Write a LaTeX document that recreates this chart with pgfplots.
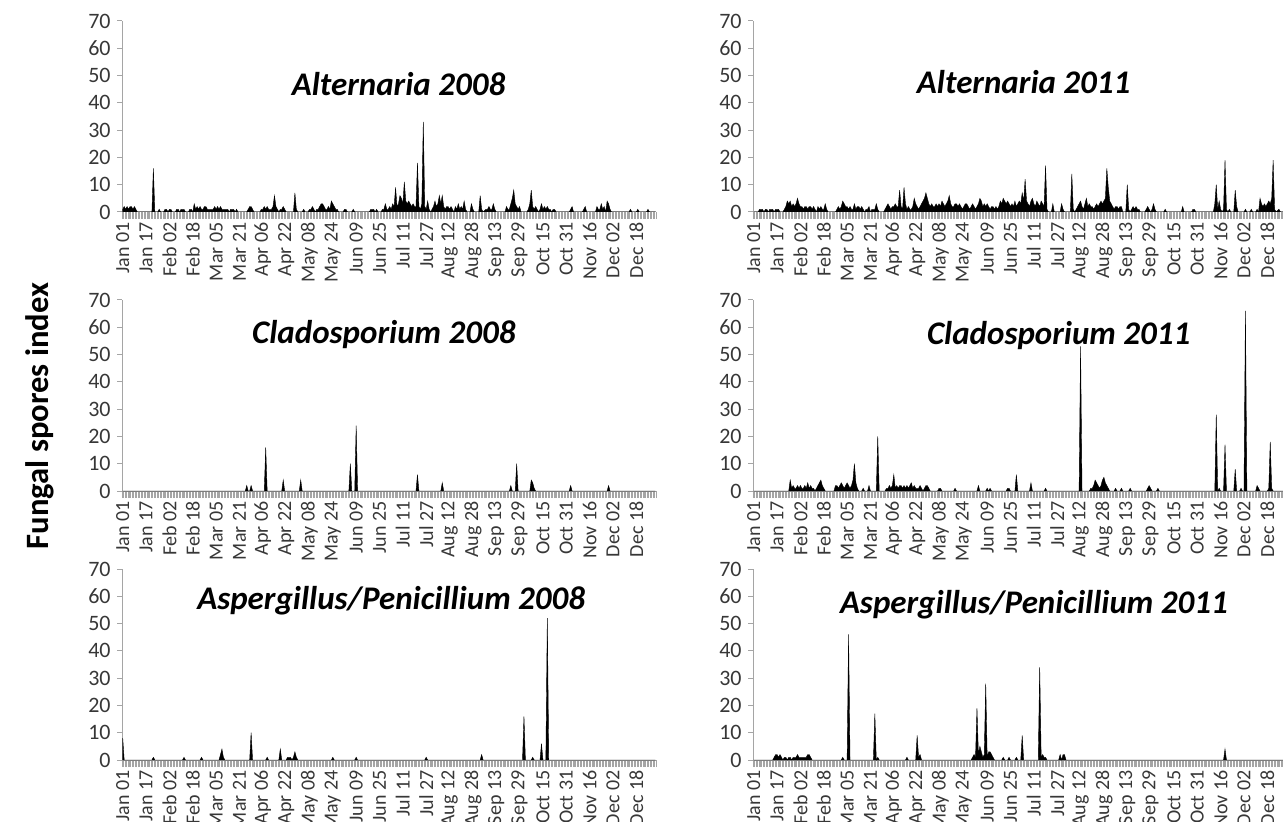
\documentclass[border=0pt]{standalone}
\usepackage{fontspec}
\setmainfont{Carlito}
\usepackage{pgfplots}
\pgfplotsset{compat=1.18}
\definecolor{axgray}{RGB}{165,165,165}
\definecolor{lblgray}{RGB}{55,55,55}
\tikzset{
 area/.style={fill=black, draw=black, line width=0.2pt},
 ttl/.style={font=\fontsize{16.5}{18}\selectfont\bfseries\itshape},
}
\pgfplotsset{
 panel/.style={
   scale only axis, width=267pt, height=95.5pt,
   xmin=0.5, xmax=366.5, ymin=0, ymax=70,
   axis x line=bottom, axis y line=left,
   axis line style={-, draw=axgray, line width=0.5pt},
   ytick={0,10,...,70},
   xtick={1,17,...,353},
   xticklabels={Jan 01,Jan 17,Feb 02,Feb 18,Mar 05,Mar 21,Apr 06,Apr 22,May 08,May 24,Jun 09,Jun 25,Jul 11,Jul 27,Aug 12,Aug 28,Sep 13,Sep 29,Oct 15,Oct 31,Nov 16,Dec 02,Dec 18},
   minor xtick={0.5,1.5,...,366.5},
   tick align=outside,
   major x tick style={draw=none},
   minor x tick style={draw=axgray, line width=0.3pt},
   major y tick style={draw=axgray, line width=0.5pt},
   major tick length=2.5pt, minor tick length=3.5pt,
   x tick label style={rotate=90, anchor=east, font=\fontsize{10}{11}\selectfont, text=lblgray, inner sep=2.6pt},
   y tick label style={font=\fontsize{11}{12}\selectfont, text=lblgray, inner sep=3pt},
   /pgf/number format/assume math mode=true,
 },
}
\begin{document}
\begin{tikzpicture}
% ---------------- Alternaria 2008
\begin{axis}[panel, at={(61pt,-10.5pt)}, anchor=north west]
\addplot[area] coordinates {(1,1)(2,2)(3,1)(4,2)(5,1)(6,2)(7,2)(8,1)(9,2)(10,1)(11,0)
(21,0)(22,16)(23,0)
(25,0)(26,1)(27,0)(29,0)(30,1)(31,1)(32,0)(33,1)(34,1)(35,0)(37,0)(38,1)(39,1)(40,0)(41,1)(42,1)(43,1)(44,0)(46,0)(47,1)(48,1)(49,0)
(50,3)(51,1)(52,2)(53,1)(54,2)(55,1)(56,1)(57,2)(58,2)(59,1)(60,1)(61,1)(62,1)(63,1)(64,2)(65,1)(66,2)(67,1)(68,2)(69,1)(70,1)(71,1)(72,1)(73,1)(74,0)(75,1)(76,1)(77,1)(78,0)(79,1)(80,0)
(86,0)(87,1)(88,2)(89,2)(90,1)(91,0)
(95,0)(96,1)(97,1)(98,2)(99,1)(100,2)(101,1)(102,1)(103,1)(104,2)(105,6)(106,2)(107,1)(108,0)(109,1)(110,1)(111,2)(112,1)(113,0)
(118,0)(119,7)(120,1)(121,0)
(124,0)(125,1)(126,0)(128,0)(129,1)(130,1)(131,2)(132,1)(133,0)(134,1)(135,1)(136,2)(137,3)(138,3)(139,2)(140,1)(141,1)(142,2)(143,1)(144,4)(145,3)(146,2)(147,1)(148,1)(149,0)
(152,0)(153,1)(154,1)(155,0)(158,0)(159,1)(160,0)
(170,0)(171,1)(172,1)(173,1)(174,0)(175,1)(176,0)
(178,0)(179,1)(180,1)(181,3)(182,1)(183,1)(184,2)(185,1)(186,3)(187,2)(188,9)(189,2)(190,3)(191,6)(192,5)(193,3)(194,11)(195,4)(196,3)(197,4)(198,3)(199,2)(200,3)(201,2)(202,2)(203,18)(204,2)(205,1)(206,3)(207,33)(208,2)(209,1)(210,4)(211,1)(212,0)
(213,1)(214,2)(215,4)(216,2)(217,3)(218,6)(219,3)(220,6)(221,2)(222,1)(223,2)(224,2)(225,1)(226,2)(227,1)(228,0)(229,2)(230,1)(231,3)(232,1)(233,2)(234,1)(235,4)(236,1)(237,0)
(239,0)(240,3)(241,1)(242,0)(245,0)(246,6)(247,1)(248,0)(250,1)(251,1)(252,2)(253,1)(254,1)(255,3)(256,1)(257,0)
(263,0)(264,2)(265,1)(266,1)(267,3)(268,5)(269,8)(270,3)(271,2)(272,1)(273,2)(274,0)
(278,0)(279,1)(280,3)(281,8)(282,2)(283,1)(284,2)(285,1)(286,0)(287,1)(288,3)(289,1)(290,2)(291,1)(292,2)(293,1)(294,1)(295,0)(296,1)(297,1)(298,0)
(307,0)(308,1)(309,2)(310,0)(316,0)(317,1)(318,2)(319,0)
(325,0)(326,2)(327,1)(328,1)(329,3)(330,1)(331,2)(332,0)(333,4)(334,3)(335,1)(336,0)
(348,0)(349,1)(350,0)(353,0)(354,1)(355,0)(360,0)(361,1)(362,0)(366,0)} \closedcycle;
\node[ttl] at (axis cs:190,47) {Alternaria 2008};
\end{axis}
% ---------------- Alternaria 2011
\begin{axis}[panel, at={(376.5pt,-10.5pt)}, anchor=north west]
\addplot[area] coordinates {(1,0)(4,0)(5,1)(6,1)(7,1)(8,0)(9,1)(10,1)(11,0)(12,1)(13,1)(14,1)(15,0)(16,1)(17,1)(18,1)(19,0)
(21,0)(22,1)(23,2)(24,4)(25,3)(26,4)(27,2)(28,3)(29,2)(30,3)(31,5)(32,3)(33,2)(34,2)(35,1)(36,2)(37,2)(38,1)(39,2)(40,2)(41,1)(42,2)(43,1)(44,0)(45,2)(46,1)(47,2)(48,1)(49,1)(50,3)(51,1)(52,0)
(57,0)(58,1)(59,2)(60,1)(61,2)(62,4)(63,3)(64,2)(65,2)(66,1)(67,2)(68,1)(69,1)(70,3)(71,1)(72,2)(73,2)(74,1)(75,2)(76,1)(77,0)(78,1)(79,1)(80,2)(81,0)(82,1)(83,1)(84,1)(85,3)(86,1)(87,0)
(90,0)(91,1)(92,2)(93,3)(94,2)(95,1)(96,2)(97,2)(98,3)(99,2)(100,2)(101,8)(102,2)(103,1)(104,9)(105,3)(106,1)(107,2)(108,1)(109,1)(110,2)(111,5)(112,3)(113,2)(114,1)(115,2)(116,3)(117,4)(118,5)(119,7)(120,5)(121,3)(122,2)(123,3)(124,2)(125,2)(126,3)(127,2)(128,3)(129,2)(130,4)(131,3)(132,2)(133,3)(134,4)(135,6)(136,3)(137,2)(138,2)(139,3)(140,3)(141,2)(142,3)(143,2)(144,1)(145,2)(146,3)(147,3)(148,2)(149,1)(150,2)(151,3)(152,2)(153,1)(154,2)(155,3)(156,5)(157,4)(158,2)(159,3)(160,2)(161,3)(162,2)(163,1)(164,2)(165,2)(166,1)(167,2)(168,1)(169,2)(170,4)(171,3)(172,5)(173,4)(174,3)(175,4)(176,3)(177,2)(178,3)(179,2)(180,4)(181,2)(182,3)(183,4)(184,3)(185,7)(186,4)(187,12)(188,4)(189,3)(190,2)(191,4)(192,5)(193,3)(194,2)(195,4)(196,3)(197,2)(198,4)(199,3)(200,2)(201,17)(202,1)(203,0)
(205,0)(206,3)(207,0)(211,0)(212,3)(213,1)(214,0)(218,0)(219,14)(220,1)(221,0)
(222,1)(223,2)(224,3)(225,4)(226,2)(227,1)(228,3)(229,5)(230,2)(231,3)(232,2)(233,2)(234,1)(235,2)(236,3)(237,2)(238,3)(239,4)(240,3)(241,4)(242,5)(243,16)(244,9)(245,4)(246,3)(247,2)(248,1)(249,2)(250,2)(251,1)(252,2)(253,2)(254,0)(256,0)(257,10)(258,1)(259,0)
(260,1)(261,2)(262,1)(263,2)(264,1)(265,1)(266,0)(269,0)(270,1)(271,2)(272,1)(273,0)(274,1)(275,3)(276,1)(277,0)
(282,0)(283,1)(284,0)(294,0)(295,2)(296,0)(301,0)(302,1)(303,1)(304,0)
(316,0)(317,3)(318,10)(319,1)(320,4)(321,1)(322,0)(323,1)(324,19)(325,1)(326,0)(327,1)(328,0)(330,0)(331,8)(332,2)(333,0)
(337,0)(338,1)(339,0)(341,0)(342,1)(343,0)(345,0)(346,1)(347,0)(348,5)(349,3)(350,2)(351,3)(352,2)(353,3)(354,4)(355,3)(356,5)(357,19)(358,1)(359,0)(361,1)(362,0)(366,0)} \closedcycle;
\node[ttl] at (axis cs:186,47.5) {Alternaria 2011};
\end{axis}
% ---------------- Cladosporium 2008
\begin{axis}[panel, at={(61pt,-150pt)}, anchor=north west]
\addplot[area] coordinates {(1,0)(85,0)(86,2)(87,0)(88,0)(89,2)(90,0)(98,0)(99,16)(100,0)(110,0)(111,4)(112,0)(122,0)(123,4)(124,0)(156,0)(157,10)(158,0)(160,0)(161,24)(162,0)(202,0)(203,6)(204,0)(219,0)(220,3)(221,0)(266,0)(267,2)(268,0)(270,0)(271,10)(272,0)(280,0)(281,4)(282,3)(283,1)(284,0)(307,0)(308,2)(309,0)(333,0)(334,2)(335,0)(366,0)} \closedcycle;
\node[ttl] at (axis cs:180,57.5) {Cladosporium 2008};
\end{axis}
% ---------------- Cladosporium 2011
\begin{axis}[panel, at={(376.5pt,-150pt)}, anchor=north west]
\addplot[area] coordinates {(1,0)(25,0)(26,4)(27,1)(28,2)(29,1)(30,1)(31,2)(32,1)(33,2)(34,1)(35,1)(36,2)(37,1)(38,3)(39,1)(40,2)(41,1)(42,1)(43,0)(44,1)(45,2)(46,3)(47,4)(48,2)(49,1)(50,0)
(56,0)(57,2)(58,2)(59,1)(60,2)(61,3)(62,2)(63,1)(64,2)(65,3)(66,2)(67,1)(68,2)(69,4)(70,10)(71,3)(72,1)(73,0)(75,0)(76,1)(77,0)(79,0)(80,2)(81,0)(85,0)(86,20)(87,0)
(91,0)(92,1)(93,1)(94,2)(95,1)(96,2)(97,6)(98,1)(99,2)(100,1)(101,2)(102,2)(103,1)(104,2)(105,1)(106,2)(107,1)(108,2)(109,3)(110,1)(111,2)(112,1)(113,1)(114,1)(115,2)(116,1)(117,0)(118,1)(119,2)(120,2)(121,1)(122,0)
(127,0)(128,1)(129,1)(130,0)(138,0)(139,1)(140,0)
(154,0)(155,2)(156,0)(160,0)(161,1)(162,0)(163,1)(164,0)
(174,0)(175,1)(176,1)(177,0)(180,0)(181,6)(182,0)(190,0)(191,3)(192,0)(200,0)(201,1)(202,0)
(224,0)(225,53)(226,0)
(231,0)(232,1)(233,1)(234,2)(235,4)(236,3)(237,2)(238,1)(239,2)(240,4)(241,5)(242,3)(243,2)(244,1)(245,0)(248,0)(249,1)(250,0)(252,0)(253,1)(254,0)(258,0)(259,1)(260,0)
(270,0)(271,1)(272,2)(273,1)(274,0)(277,0)(278,1)(279,0)
(317,0)(318,28)(319,0)(320,1)(321,0)(323,0)(324,17)(325,0)(330,0)(331,8)(332,0)(334,0)(335,1)(336,0)(337,0)(338,66)(339,0)
(345,0)(346,2)(347,1)(348,0)(353,0)(354,1)(355,18)(356,1)(357,0)(366,0)} \closedcycle;
\node[ttl] at (axis cs:210,57) {Cladosporium 2011};
\end{axis}
% ---------------- Aspergillus/Penicillium 2008
\begin{axis}[panel, at={(61pt,-284.5pt)}, anchor=north west]
\addplot[area] coordinates {(1,8)(2,0)(21,0)(22,1)(23,0)(42,0)(43,1)(44,0)(54,0)(55,1)(56,0)(67,0)(68,2)(69,4)(70,1)(71,0)(88,0)(89,10)(90,0)(99,0)(100,1)(101,0)(108,0)(109,4)(110,0)(113,0)(114,1)(115,1)(116,1)(117,0)(118,1)(119,3)(120,1)(121,0)(144,0)(145,1)(146,0)(160,0)(161,1)(162,0)(208,0)(209,1)(210,0)(246,0)(247,2)(248,0)(275,0)(276,16)(277,0)(281,0)(282,1)(283,0)(287,0)(288,6)(289,0)(291,0)(292,52)(293,0)(366,0)} \closedcycle;
\node[ttl] at (axis cs:185,58.5) {Aspergillus/Penicillium 2008};
\end{axis}
% ---------------- Aspergillus/Penicillium 2011
\begin{axis}[panel, at={(376.5pt,-284.5pt)}, anchor=north west]
\addplot[area] coordinates {(1,0)(14,0)(15,1)(16,2)(17,2)(18,1)(19,2)(20,1)(21,0)(22,1)(23,1)(24,0)(25,1)(26,1)(27,0)(28,1)(29,1)(30,1)(31,2)(32,1)(33,1)(34,1)(35,1)(36,1)(37,1)(38,2)(39,2)(40,1)(41,0)(61,0)(62,1)(63,0)(65,0)(66,46)(67,0)(83,0)(84,17)(85,0)(86,1)(87,0)(105,0)(106,1)(107,0)(112,0)(113,9)(114,1)(115,2)(116,0)(150,0)(151,1)(152,2)(153,1)(154,19)(155,2)(156,5)(157,3)(158,1)(159,2)(160,28)(161,1)(162,3)(163,3)(164,2)(165,1)(166,0)(171,0)(172,1)(173,0)(175,0)(176,1)(177,0)(180,0)(181,1)(182,0)(184,0)(185,9)(186,0)(196,0)(197,34)(198,1)(199,2)(200,1)(201,1)(202,0)(210,0)(211,2)(212,0)(213,2)(214,2)(215,0)(323,0)(324,4)(325,0)(366,0)} \closedcycle;
\node[ttl] at (axis cs:193,57) {Aspergillus/Penicillium 2011};
\end{axis}
\node[rotate=90, font=\fontsize{16.3}{18}\selectfont\bfseries] at (20pt,-208pt) {Fungal spores index};
\pgfresetboundingbox
\useasboundingbox (0,0) rectangle (641.5pt,-411pt);
\end{tikzpicture}
\end{document}
